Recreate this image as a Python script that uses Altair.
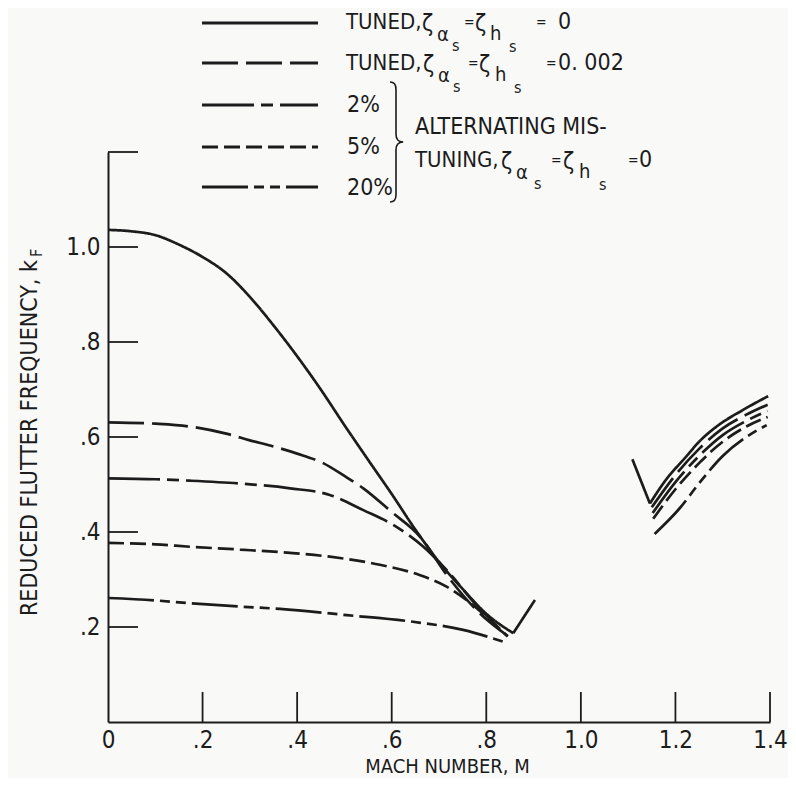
import altair as alt
import pandas as pd

# ---------------- data ----------------
SERIES = ["tuned0", "tuned002", "mis2", "mis5", "mis20"]

tuned0_a_m = [0, 0.05, 0.1, 0.15, 0.2, 0.25, 0.3, 0.35, 0.4, 0.45, 0.5, 0.55, 0.6, 0.65, 0.7, 0.75, 0.8, 0.857]
tuned0_a_k = [1.036, 1.033, 1.025, 1.005, 0.979, 0.945, 0.895, 0.835, 0.77, 0.70, 0.625, 0.552, 0.48, 0.405, 0.337, 0.28, 0.228, 0.187]
tuned0_b_m = [0.857, 0.903]
tuned0_b_k = [0.187, 0.257]
tuned0_c_m = [1.109, 1.146]
tuned0_c_k = [0.553, 0.46]
tuned0_d_m = [1.146, 1.18, 1.223, 1.25, 1.287, 1.343, 1.396]
tuned0_d_k = [0.46, 0.51, 0.559, 0.59, 0.622, 0.657, 0.686]

tuned002_a_m = [0, 0.1, 0.173, 0.25, 0.3, 0.35, 0.4, 0.455, 0.5, 0.54, 0.6, 0.66, 0.716, 0.78, 0.85]
tuned002_a_k = [0.631, 0.628, 0.622, 0.607, 0.593, 0.58, 0.565, 0.545, 0.518, 0.492, 0.442, 0.39, 0.31, 0.235, 0.178]
tuned002_b_m = [1.15, 1.2, 1.25, 1.3, 1.35, 1.395]
tuned002_b_k = [0.452, 0.52, 0.575, 0.618, 0.647, 0.668]

mis2_a_m = [0, 0.1, 0.173, 0.279, 0.385, 0.469, 0.54, 0.61, 0.667, 0.716, 0.78, 0.845]
mis2_a_k = [0.513, 0.511, 0.508, 0.502, 0.492, 0.478, 0.446, 0.411, 0.369, 0.32, 0.245, 0.18]
mis2_b_m = [1.152, 1.2, 1.25, 1.3, 1.35, 1.395]
mis2_b_k = [0.44, 0.505, 0.56, 0.604, 0.634, 0.655]

mis5_a_m = [0, 0.1, 0.173, 0.279, 0.385, 0.469, 0.575, 0.66, 0.716, 0.758, 0.8, 0.84]
mis5_a_k = [0.377, 0.374, 0.369, 0.363, 0.356, 0.348, 0.331, 0.309, 0.285, 0.257, 0.222, 0.185]
mis5_b_m = [1.153, 1.2, 1.25, 1.3, 1.35, 1.395]
mis5_b_k = [0.428, 0.49, 0.545, 0.59, 0.622, 0.642]

mis20_a_m = [0, 0.1, 0.173, 0.279, 0.364, 0.505, 0.645, 0.751, 0.836]
mis20_a_k = [0.261, 0.256, 0.25, 0.243, 0.238, 0.225, 0.211, 0.194, 0.169]
mis20_b_m = [1.156, 1.209, 1.252, 1.3, 1.35, 1.393]
mis20_b_k = [0.396, 0.45, 0.505, 0.56, 0.6, 0.625]

X_TICKS = [0, 0.2, 0.4, 0.6, 0.8, 1.0, 1.2, 1.4]
X_LABELS = ["0", ".2", ".4", ".6", ".8", "1.0", "1.2", "1.4"]
Y_TICKS = [0.2, 0.4, 0.6, 0.8, 1.0, 1.2]
Y_LABELS = [".2", ".4", ".6", ".8", "1.0"]

# ---------------- style ----------------
FONT = "Liberation Sans Narrow, Arial Narrow, DejaVu Sans Condensed, Liberation Sans, sans-serif"
INK = "#1c1c1c"
BG = "#f9f9f8"
W, H = 662, 570
OX, OY = 108, 152  # page position of the plot origin
DASHES = [[1, 0], [36, 8], [52, 7, 12, 7], [16, 6], [46, 6, 10, 6, 10, 6]]

segments = [
    ("tuned0", "a", tuned0_a_m, tuned0_a_k), ("tuned0", "b", tuned0_b_m, tuned0_b_k),
    ("tuned0", "c", tuned0_c_m, tuned0_c_k), ("tuned0", "d", tuned0_d_m, tuned0_d_k),
    ("tuned002", "a", tuned002_a_m, tuned002_a_k), ("tuned002", "b", tuned002_b_m, tuned002_b_k),
    ("mis2", "a", mis2_a_m, mis2_a_k), ("mis2", "b", mis2_b_m, mis2_b_k),
    ("mis5", "a", mis5_a_m, mis5_a_k), ("mis5", "b", mis5_b_m, mis5_b_k),
    ("mis20", "a", mis20_a_m, mis20_a_k), ("mis20", "b", mis20_b_m, mis20_b_k),
]
rows = []
for s, seg, ms, ks in segments:
    for i, (m, k) in enumerate(zip(ms, ks)):
        rows.append({"series": s, "seg": s + "-" + seg, "idx": i, "mach": m, "kf": k})
df = pd.DataFrame(rows)

xlab_expr = "[" + ",".join("'%s'" % t for t in X_LABELS) + "][round(datum.value*5)]"
ylab_expr = "[" + ",".join("'%s'" % t for t in Y_LABELS) + "][round(datum.value*5)-1]"

xscale = alt.Scale(domain=[0, 1.4], nice=False, zero=False)
yscale = alt.Scale(domain=[0, 1.2], nice=False, zero=False)
XAXIS = alt.Axis(values=X_TICKS, labelExpr=xlab_expr, title="MACH NUMBER, M", labelFlush=False,
                 labelPadding=6,
                 titleX=339, titleY=44, titleBaseline="middle", titleAlign="center")
YAXIS = alt.Axis(values=Y_TICKS[:-1], labelExpr=ylab_expr, title=None, labelFlush=False)

curves = alt.Chart(df).mark_line(color=INK, strokeWidth=2.7, interpolate="monotone").encode(
    x=alt.X("mach:Q", scale=xscale, axis=XAXIS),
    y=alt.Y("kf:Q", scale=yscale, axis=YAXIS),
    detail="seg:N",
    order="idx:Q",
    strokeDash=alt.StrokeDash("series:N", scale=alt.Scale(domain=SERIES, range=DASHES), legend=None),
)

xticks = alt.Chart(pd.DataFrame({"mach": X_TICKS[1:]})).mark_rule(color=INK, strokeWidth=1.8).encode(
    x=alt.X("mach:Q", scale=xscale, axis=XAXIS), y=alt.value(H), y2=alt.value(H - 30))
yticks = alt.Chart(pd.DataFrame({"kf": Y_TICKS})).mark_rule(color=INK, strokeWidth=1.8).encode(
    y=alt.Y("kf:Q", scale=yscale, axis=YAXIS), x=alt.value(0), x2=alt.value(30))

one = pd.DataFrame({"_": [0]})


def txt(t, px, py, size=23, align="left", angle=0):
    return alt.Chart(one).mark_text(
        fontSize=size, font=FONT, color=INK,
        align=align, baseline="middle", angle=angle).encode(
        x=alt.value(px - OX), y=alt.value(py - OY), text=alt.value(t))


def legline(py, dash):
    return alt.Chart(one).mark_rule(color=INK, strokeWidth=3.2, strokeDash=dash).encode(
        x=alt.value(202 - OX), x2=alt.value(318 - OX), y=alt.value(py - OY))


layers = [curves, xticks, yticks]

# legend samples
for py, dash in zip([23, 63, 105, 147, 187], DASHES):
    layers.append(legline(py, dash))


def zeta_eq(y0, coords, tail):
    # coords: x positions for zeta, alpha, s, =, zeta, h, s, =, tail
    z1, a, s1, e1, z2, h, s2, e2, t = coords
    return [
        txt("ζ", z1, y0 + 2), txt("α", a, y0 + 13, 20), txt("s", s1, y0 + 24, 16),
        txt("=", e1, y0 + 1, 14), txt("ζ", z2, y0 + 2), txt("h", h, y0 + 12, 20),
        txt("s", s2, y0 + 25, 16), txt("=", e2, y0 + 1, 14), txt(tail, t, y0),
    ]


layers.append(txt("TUNED,", 346, 22, 22))
layers += zeta_eq(22, [422, 437, 452, 464, 475, 490, 509, 536, 558], "0")
layers.append(txt("TUNED,", 346, 63, 22))
layers += zeta_eq(63, [423, 438, 453, 468, 479, 495, 514, 546, 558], "0. 002")
layers.append(txt("2%", 347, 105))
layers.append(txt("5%", 347, 147))
layers.append(txt("20%", 347, 188))
layers.append(txt("ALTERNATING MIS-", 415, 127))
layers.append(txt("TUNING,", 415, 160, 22))
layers += zeta_eq(160, [501, 516, 534, 551, 563, 579, 599, 628, 639], "0")

# brace
BRACE = "M-0.1,-1 Q0,-1 0,-0.88 L0,-0.13 Q0,0 0.12,0 Q0,0 0,0.13 L0,0.88 Q0,1 -0.1,1"
layers.append(alt.Chart(one).mark_point(
    shape=BRACE, size=14400, filled=False, stroke=INK, strokeWidth=1.6, opacity=1).encode(
    x=alt.value(396 - OX), y=alt.value(142 - OY)))

# y-axis title with subscript
layers.append(txt("REDUCED FLUTTER FREQUENCY, k", 30, 260, 23, align="right", angle=270))
layers.append(txt("F", 37, 257, 16, align="left", angle=270))

chart = alt.layer(*layers).properties(
    width=W, height=H,
    padding={"left": OX - 8, "top": OY - 8, "right": 18, "bottom": 56},
    autosize=alt.AutoSizeParams(type="none"),
    background=BG,
).configure_view(stroke=None).configure_axis(
    domainColor=INK, domainWidth=2, ticks=False, grid=False,
    labelFont=FONT, labelFontSize=24, labelColor=INK, labelPadding=8,
    titleFont=FONT, titleFontSize=20, titleFontWeight="normal", titleColor=INK,
)

chart.save("out.html", embed_options={"renderer": "svg", "actions": False})
